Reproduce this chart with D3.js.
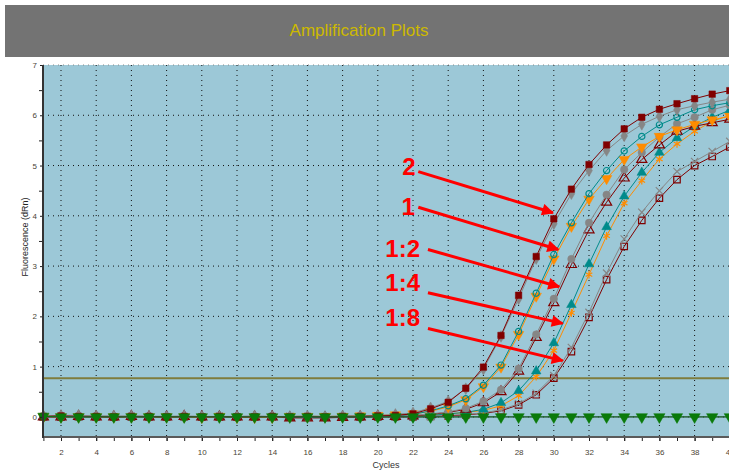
<!DOCTYPE html>
<html>
<head>
<meta charset="utf-8">
<script src="https://cdn.jsdelivr.net/npm/d3@7"></script>
<style>
body{margin:0;background:#fff;font-family:Arial,"Liberation Sans",sans-serif}
svg{display:block}
</style>
</head>
<body>
<div class="chart"></div>
<script>
// cycle numbers (x categories)
const cycles=[1,2,3,4,5,6,7,8,9,10,11,12,13,14,15,16,17,18,19,20,
	21,22,23,24,25,26,27,28,29,30,31,32,33,34,35,36,37,38,39,40]

// fluorescence (dRn) per cycle
const dil2a=[0.01,0.02,0.01,0.01,0.00,0.01,0.01,0.00,0.01,0.00,0.01,0.00,0.00,0.01,0.00,0.01,0.00,0.01,0.01,0.02,0.03,
	0.06,0.16,0.29,0.57,0.99,1.62,2.42,3.19,3.94,4.53,5.02,5.41,5.73,5.96,6.12,6.23,6.33,6.42,6.49]
const dil2b=[0.02,0.03,0.03,0.02,0.02,0.02,0.01,0.01,0.02,0.01,0.01,0.01,0.02,0.01,0.01,0.02,0.01,0.02,0.02,0.03,0.05,
	0.08,0.18,0.31,0.56,0.95,1.60,2.35,3.15,3.84,4.44,4.90,5.30,5.59,5.82,5.98,6.11,6.19,6.26,6.32]
const dil1a=[0.00,0.01,0.00,0.00,0.01,0.00,0.00,0.01,0.00,0.01,0.00,0.00,0.01,0.00,0.01,0.00,0.00,0.01,0.01,0.02,0.03,
	0.05,0.12,0.22,0.36,0.63,1.03,1.70,2.46,3.23,3.86,4.44,4.90,5.29,5.58,5.81,5.96,6.11,6.19,6.25]
const dil1b=[0.00,0.00,0.00,0.00,0.00,0.00,0.00,0.00,0.00,-0.01,0.01,-0.01,-0.01,-0.01,0.01,0.01,0.01,0.01,0.02,0.03,0.04,
	0.06,0.11,0.20,0.34,0.60,0.99,1.64,2.40,3.14,3.79,4.33,4.74,5.12,5.37,5.58,5.71,5.82,5.91,5.98]
const dil12a=[0.01,0.01,0.00,0.01,0.01,0.00,0.01,0.01,0.00,0.01,0.00,0.01,0.00,0.00,0.01,0.00,0.01,0.00,0.01,0.01,0.02,
	0.03,0.06,0.10,0.17,0.31,0.54,0.96,1.64,2.35,3.14,3.86,4.42,4.92,5.26,5.57,5.83,5.96,6.11,6.20]
const dil12b=[0.00,0.00,0.01,0.00,0.00,0.01,0.00,0.00,0.01,0.00,0.00,0.00,0.00,0.00,-0.02,-0.02,-0.02,-0.01,0.00,0.01,0.01,
	0.02,0.05,0.09,0.15,0.28,0.50,0.91,1.58,2.27,3.03,3.72,4.27,4.75,5.12,5.41,5.68,5.78,5.85,5.92]
const dil14a=[0.00,0.00,0.00,0.01,0.00,0.00,0.00,0.01,0.00,0.00,0.01,0.00,0.00,0.01,0.00,0.00,0.00,0.01,0.00,0.00,0.01,
	0.01,0.03,0.06,0.09,0.15,0.28,0.52,0.91,1.47,2.23,3.04,3.78,4.39,4.86,5.26,5.55,5.78,5.96,6.10]
const dil14b=[0.00,0.00,0.01,0.00,0.00,0.00,0.01,0.00,0.00,0.00,0.00,0.01,0.00,0.00,0.00,0.01,0.00,0.00,0.01,0.00,0.01,
	0.02,0.04,0.06,0.09,0.13,0.22,0.42,0.80,1.32,2.07,2.83,3.60,4.25,4.70,5.13,5.43,5.68,5.88,6.00]
const dil18a=[0.00,0.01,0.00,0.00,0.00,0.01,0.00,0.00,0.00,0.00,0.01,0.00,0.00,0.00,0.01,0.00,0.00,0.00,0.00,0.01,0.00,
	0.00,0.01,0.03,0.05,0.08,0.14,0.26,0.47,0.82,1.38,2.08,2.86,3.54,4.07,4.50,4.88,5.08,5.28,5.48]
const dil18b=[0.00,0.00,0.00,0.00,0.00,0.00,0.00,0.00,0.00,0.00,0.00,0.00,0.00,0.00,0.00,0.00,0.00,0.00,0.00,0.00,0.00,
	0.00,0.01,0.02,0.04,0.07,0.12,0.24,0.44,0.77,1.30,1.98,2.73,3.39,3.91,4.35,4.72,5.00,5.18,5.37]
const ntcB=[0.00,0.00,0.00,0.00,0.00,0.00,0.00,0.00,0.00,0.00,0.00,0.00,0.00,0.00,0.00,0.00,0.00,0.00,0.00,0.00,0.00,
	0.00,0.00,0.00,0.00,0.00,0.00,0.00,0.00,0.00,0.00,0.00,0.00,0.00,0.00,0.00,0.00,0.00,0.00,0.00]
const ntcA=[0.01,0.00,0.00,0.00,0.00,0.00,0.00,0.00,0.00,0.00,0.00,0.00,0.00,0.00,0.00,0.00,0.00,0.00,0.00,0.00,0.00,
	0.00,0.00,0.00,0.00,0.00,0.00,0.00,0.00,0.00,0.00,0.00,0.00,0.00,0.00,0.00,0.00,0.00,0.00,0.00]

const threshold=0.77
const yTicks=[0,1,2,3,4,5,6,7]
const yMinorTicks=[0.5,1.5,2.5,3.5,4.5,5.5,6.5]
const xTicks=[2,4,6,8,10,12,14,16,18,20,22,24,26,28,30,32,34,36,38,40]

// dilution labels with arrows, in data units (cycle, dRn)
const notes=[
	{label:'2',  tx:22.15,ty:4.82,x1:22.3,y1:4.88,x2:29.95,y2:4.06},
	{label:'1',  tx:22.1, ty:4.02,x1:22.3,y1:4.17,x2:30.25,y2:3.33},
	{label:'1:2',tx:22.4, ty:3.19,x1:22.85,y1:3.33,x2:30.3,y2:2.59},
	{label:'1:4',tx:22.4, ty:2.51,x1:22.85,y1:2.47,x2:30.5,y2:1.86},
	{label:'1:8',tx:22.4, ty:1.80,x1:22.85,y1:1.76,x2:30.5,y2:1.12}
]

const maroon='#800000', gray='#868686', teal='#008b8b', orange='#ff8c00'

const series=[
	{values:dil18b,color:maroon,symbol:d3.symbolSquare,size:42,fill:false},
	{values:dil18a,color:gray,symbol:d3.symbolTimes,size:36,fill:false},
	{values:dil14b,color:orange,symbol:d3.symbolAsterisk,size:40,fill:false},
	{values:dil14a,color:teal,symbol:d3.symbolTriangle,size:40,fill:true},
	{values:dil12b,color:maroon,symbol:d3.symbolTriangle,size:44,fill:false},
	{values:dil12a,color:gray,symbol:d3.symbolCircle,size:44,fill:true},
	{values:dil1b,color:orange,symbol:d3.symbolTriangle,size:48,fill:true,down:true},
	{values:dil1a,color:teal,symbol:d3.symbolCircle,size:30,fill:false},
	{values:dil2b,color:gray,symbol:d3.symbolDiamond,size:40,fill:true},
	{values:dil2a,color:maroon,symbol:d3.symbolSquare,size:42,fill:true},
	{values:ntcB,color:'#5a2a8a',symbol:d3.symbolCircle,size:14,fill:true},
	{values:ntcA,color:'#0a7a0a',symbol:d3.symbolTriangle,size:55,fill:true,down:true}
]

const W=729,H=472
const plot={left:43,top:65,bottom:437}

const svg=d3.select('.chart').append('svg')
		.attr('width',W)
		.attr('height',H)

// title bar
svg.append('rect')
		.attr('x',5).attr('y',5)
		.attr('width',W-5).attr('height',52)
		.attr('fill','#737373')
svg.append('text')
		.attr('x',359).attr('y',36)
		.attr('text-anchor','middle')
		.attr('font-size',17)
		.attr('fill','#cdb900')
		.text('Amplification Plots')

const x=d3.scaleLinear()
		.domain([1,40])
		.range([43.4,729.8])

const y=d3.scaleLinear()
		.domain([-0.4,7])
		.range([plot.bottom,plot.top])

// plot background
svg.append('rect')
		.attr('x',plot.left).attr('y',plot.top)
		.attr('width',W-plot.left).attr('height',plot.bottom-plot.top)
		.attr('fill','#9cc8d7')

// grid
svg.append('g').selectAll('line')
		.data(xTicks)
		.join('line')
		.attr('x1',d=>x(d)).attr('x2',d=>x(d))
		.attr('y1',plot.top).attr('y2',plot.bottom)
		.attr('stroke','#111')
		.attr('stroke-dasharray','1,4')
svg.append('g').selectAll('line')
		.data(yTicks)
		.join('line')
		.attr('x1',plot.left).attr('x2',W)
		.attr('y1',d=>y(d)).attr('y2',d=>y(d))
		.attr('stroke',d=>d==7?'#888':'#111')
		.attr('stroke-dasharray','1,4')

// threshold
svg.append('line')
		.attr('x1',plot.left).attr('x2',W)
		.attr('y1',y(threshold)).attr('y2',y(threshold))
		.attr('stroke','#7f7d3c')
		.attr('stroke-width',2)

// curves
const line=d3.line()
		.x((d,i)=>x(cycles[i]))
		.y(d=>y(d))

const groups=svg.append('g').selectAll('g')
		.data(series)
		.join('g')

groups.append('path')
		.attr('d',d=>line(d.values))
		.attr('fill','none')
		.attr('stroke',d=>d.color)
		.attr('stroke-width',1)

groups.each(function(s){
	const sym=d3.symbol().type(s.symbol).size(s.size)
	d3.select(this).selectAll('path.pt')
		.data(s.values)
		.join('path')
		.attr('class','pt')
		.attr('d',sym)
		.attr('transform',(d,i)=>`translate(${x(cycles[i])},${y(d)})`+(s.down?' rotate(180)':''))
		.attr('fill',s.fill?s.color:'none')
		.attr('stroke',s.color)
		.attr('stroke-width',s.fill?0.5:1.2)
})

// axes
const yAxis=d3.axisLeft(y)
		.tickValues(yTicks)
		.tickSize(3)
		.tickFormat(d3.format('d'))
const yMinor=d3.axisLeft(y)
		.tickValues(yMinorTicks)
		.tickSize(4)
		.tickFormat('')
const xAxis=d3.axisBottom(x)
		.tickValues(xTicks)
		.tickSize(4)
		.tickPadding(8)
const xMinor=d3.axisBottom(x)
		.tickValues(cycles)
		.tickSize(4)
		.tickFormat('')

svg.append('g')
		.attr('transform',`translate(0,${plot.bottom})`)
		.call(xMinor)
svg.append('g')
		.attr('class','x-axis')
		.attr('transform',`translate(0,${plot.bottom})`)
		.call(xAxis)
svg.append('g')
		.attr('transform',`translate(${plot.left},0)`)
		.call(yMinor)
svg.append('g')
		.attr('class','y-axis')
		.attr('transform',`translate(${plot.left},0)`)
		.call(yAxis)

svg.selectAll('.tick text')
		.attr('font-size',8)
		.attr('fill','#4a4436')
svg.selectAll('.tick line').attr('stroke','#222')
svg.selectAll('.domain').remove()

svg.append('line')
		.attr('x1',plot.left).attr('x2',W)
		.attr('y1',plot.bottom).attr('y2',plot.bottom)
		.attr('stroke','#5a5a5a').attr('stroke-width',2)
svg.append('line')
		.attr('x1',plot.left).attr('x2',plot.left)
		.attr('y1',plot.top).attr('y2',plot.bottom+1)
		.attr('stroke','#333').attr('stroke-width',2)

// axis titles
svg.append('text')
		.attr('transform','translate(28,237) rotate(-90)')
		.attr('text-anchor','middle')
		.attr('font-size',9)
		.attr('fill','#222')
		.text('Fluorescence (dRn)')
svg.append('text')
		.attr('x',386).attr('y',468)
		.attr('text-anchor','middle')
		.attr('font-size',9)
		.attr('fill','#333')
		.text('Cycles')

// annotations
svg.append('defs').append('marker')
		.attr('id','head')
		.attr('viewBox','0 0 10 10')
		.attr('refX',9).attr('refY',5)
		.attr('markerWidth',4.5).attr('markerHeight',4)
		.attr('orient','auto')
		.attr('markerUnits','strokeWidth')
		.append('path')
		.attr('d','M0,0L10,5L0,10Z')
		.attr('fill','#f00')

const ann=svg.append('g').selectAll('g')
		.data(notes)
		.join('g')
ann.append('line')
		.attr('x1',d=>x(d.x1)).attr('y1',d=>y(d.y1))
		.attr('x2',d=>x(d.x2)).attr('y2',d=>y(d.y2))
		.attr('stroke','#f00')
		.attr('stroke-width',3)
		.attr('marker-end','url(#head)')
ann.append('text')
		.attr('x',d=>x(d.tx)).attr('y',d=>y(d.ty))
		.attr('text-anchor','end')
		.attr('font-size',24)
		.attr('font-weight','bold')
		.attr('fill','#f00')
		.text(d=>d.label)
</script>
</body>
</html>
